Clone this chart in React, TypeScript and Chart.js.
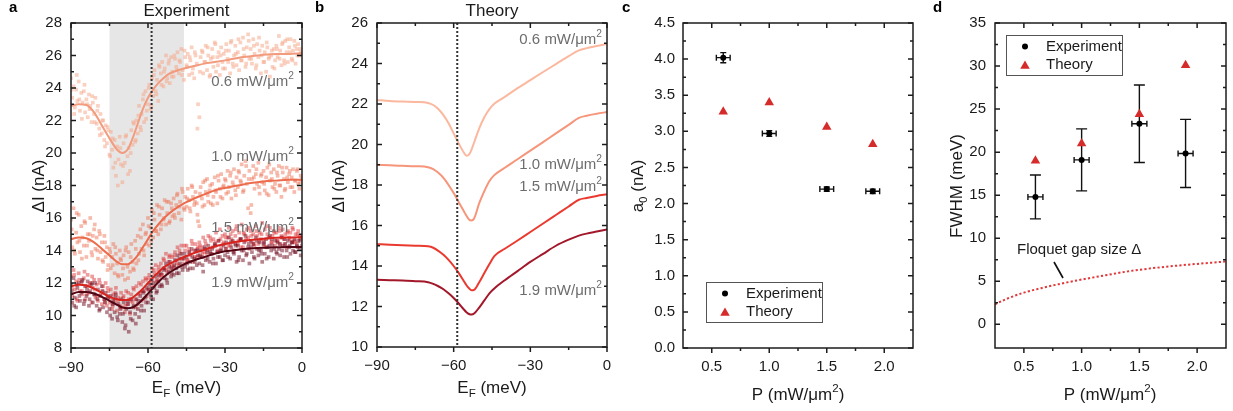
import React, { useEffect, useRef } from "react";
import { Chart, registerables } from "chart.js";
Chart.register(...registerables);

const FONT = "'Liberation Sans', Arial, Helvetica, sans-serif";
const H = 411;

// ---------------- Panel a: experiment
// main sweep: x = -90 .. 0, step 0.5
const EXP_X_START = -90;
const EXP_X_STEP = 0.5;
// second sweep: x = -89.75 .. -0.75, step 1
const EXP2_X_START = -89.75;
const EXP2_X_STEP = 1;
const exp06 = [
  24.6, 23.4, 24.1, 22.8, 23.9, 23.2, 24.4, 22.6, 23.7, 23.1,
  23.8, 22.5, 23.3, 22.2, 23.6, 22.9, 21.9, 23.1, 22.4, 23.4,
  21.8, 22.9, 21.5, 22.4, 21.2, 22.0, 20.8, 21.7, 20.6, 21.4,
  19.9, 21.3, 20.2, 19.1, 20.8, 18.6, 20.4, 19.6, 21.0, 19.3,
  18.2, 20.6, 19.4, 21.1, 19.8, 20.3, 18.9, 21.4, 20.5, 21.8,
  20.7, 22.0, 21.2, 22.9, 21.6, 22.4, 23.3, 21.9, 23.8, 22.6,
  23.0, 24.2, 22.7, 24.6, 23.5, 25.1, 23.8, 24.5, 23.2, 25.3,
  24.9, 25.6, 24.1, 25.2, 26.0, 24.6, 25.5, 24.3, 25.9, 25.0,
  24.7, 25.8, 25.3, 26.2, 24.9, 25.6, 26.4, 25.1, 24.5, 25.9,
  25.4, 26.1, 24.8, 25.7, 26.5, 25.2, 24.6, 26.0, 25.5, 23.0,
  22.2, 25.9, 26.3, 24.9, 25.6, 26.6, 25.1, 26.0, 24.7, 25.8,
  26.4, 25.3, 26.8, 25.0, 25.9, 26.2, 24.8, 26.5, 25.6, 26.1,
  25.2, 26.7, 25.8, 26.3, 24.9, 26.9, 25.5, 26.0, 26.6, 25.4,
  26.2, 25.1, 26.8, 25.7, 27.1, 26.0, 25.3, 26.5, 27.3, 25.8,
  26.4, 25.5, 27.0, 26.1, 25.2, 26.7, 25.9, 26.3, 24.9, 26.6,
  25.6, 26.2, 25.0, 26.5, 25.8, 24.7, 26.0, 25.3, 26.4, 25.7,
  26.6, 25.9, 27.2, 26.3, 25.4, 26.8, 25.7, 26.9, 26.2, 25.6,
  26.5, 27.0, 25.8, 26.3, 26.9, 25.5, 26.4, 26.7, 26.0, 26.2,
  26.1,
];
const exp06b = [
  23.9, 22.4, 24.8, 23.3, 22.1, 24.2, 23.0, 22.7, 23.5, 21.9,
  22.6, 21.1, 22.0, 20.4, 21.6, 19.8, 20.9, 19.4, 18.0, 20.3,
  19.2, 21.0, 18.7, 20.0, 21.9, 20.8, 22.3, 21.4, 23.6, 22.1,
  24.0, 22.9, 24.8, 23.6, 25.4, 24.2, 25.0, 24.4, 25.7, 24.7,
  26.0, 25.1, 25.7, 24.8, 26.3, 25.3, 25.9, 24.9, 26.2, 21.5,
  25.0, 26.2, 25.6, 26.5, 24.8, 25.9, 26.7, 25.4, 26.0, 25.2,
  26.3, 25.6, 26.8, 25.3, 26.1, 27.0, 25.7, 26.4, 25.5, 26.9,
  25.8, 26.6, 25.4, 27.1, 26.0, 25.6, 26.8, 25.9, 26.3, 25.2,
  26.4, 25.8, 26.7, 25.5, 27.0, 26.2, 25.7, 26.6, 26.0, 26.4,
];
const exp10 = [
  15.9, 14.2, 16.6, 13.8, 15.1, 14.5, 16.2, 13.9, 15.5, 14.8,
  14.3, 15.7, 13.6, 15.0, 14.6, 16.0, 13.9, 14.9, 15.3, 14.1,
  14.8, 13.5, 15.2, 13.9, 14.5, 13.3, 14.9, 13.6, 14.2, 13.1,
  14.1, 12.9, 13.6, 14.4, 12.6, 13.8, 13.2, 12.4, 14.0, 13.4,
  12.5, 13.7, 12.2, 14.2, 13.0, 13.9, 12.7, 14.4, 13.3, 12.8,
  14.6, 13.2, 14.9, 13.8, 15.3, 14.1, 15.6, 13.7, 15.0, 14.4,
  16.0, 14.3, 15.4, 16.5, 14.8, 15.9, 15.2, 16.8, 15.0, 16.2,
  15.3, 16.6, 15.9, 17.1, 15.6, 16.3, 17.0, 15.8, 16.9, 16.1,
  17.2, 16.0, 16.8, 17.5, 16.3, 17.0, 15.9, 17.6, 16.6, 17.3,
  16.7, 17.8, 17.1, 16.4, 18.0, 17.3, 16.8, 17.6, 16.9, 15.8,
  15.5, 17.9, 17.2, 18.2, 16.8, 17.6, 18.4, 17.0, 17.7, 16.9,
  18.1, 17.3, 18.5, 17.6, 16.9, 18.3, 17.8, 18.7, 17.2, 18.0,
  18.4, 17.5, 18.9, 17.9, 18.6, 17.2, 18.2, 19.0, 17.7, 18.5,
  17.9, 18.8, 18.3, 19.3, 17.6, 18.6, 19.5, 18.1, 16.6, 18.9,
  16.3, 18.4, 19.2, 17.8, 18.7, 18.1, 19.4, 17.5, 18.6, 18.2,
  18.9, 17.7, 18.5, 19.1, 17.4, 18.3, 18.8, 17.9, 19.0, 18.1,
  17.6, 18.6, 19.2, 18.0, 17.3, 18.8, 18.4, 17.8, 19.1, 18.2,
  18.7, 17.9, 18.5, 19.0, 17.6, 18.3, 18.9, 18.1, 17.8, 18.6,
  18.4,
];
const exp10b = [
  15.3, 14.0, 16.3, 14.6, 13.5, 15.8, 14.3, 15.0, 13.7, 15.6,
  14.0, 15.0, 13.4, 14.5, 12.8, 13.9, 13.1, 14.2, 12.5, 13.5,
  12.9, 14.0, 12.3, 13.6, 12.9, 14.1, 13.4, 14.8, 14.0, 15.1,
  15.5, 14.6, 16.3, 15.2, 16.7, 15.6, 16.0, 17.0, 15.7, 16.6,
  16.2, 17.4, 16.7, 17.8, 16.5, 17.2, 16.6, 17.9, 17.0, 16.2,
  17.5, 16.7, 18.3, 17.4, 18.0, 16.8, 17.7, 18.6, 17.3, 17.9,
  18.3, 17.6, 18.8, 18.0, 17.4, 18.9, 18.2, 17.7, 19.2, 18.4,
  16.8, 18.5, 19.0, 17.9, 18.7, 18.1, 17.5, 19.3, 18.4, 17.8,
  18.8, 18.0, 19.1, 17.7, 18.5, 18.9, 17.9, 18.3, 19.0, 18.2,
];
const exp15 = [
  12.4, 11.2, 12.8, 11.6, 12.1, 10.9, 12.6, 11.5, 12.0, 11.3,
  12.3, 11.0, 11.8, 12.5, 11.4, 12.0, 10.8, 11.7, 12.2, 11.1,
  11.9, 10.9, 12.2, 11.3, 10.7, 11.8, 11.0, 12.0, 10.6, 11.5,
  10.8, 11.6, 10.4, 11.3, 10.9, 11.7, 10.3, 11.1, 10.6, 11.4,
  10.5, 11.2, 10.2, 11.5, 10.7, 11.0, 10.1, 11.3, 10.8, 11.6,
  11.0, 11.8, 10.7, 12.0, 11.4, 10.9, 12.1, 11.5, 12.3, 11.2,
  11.6, 12.5, 12.0, 12.9, 11.8, 12.6, 13.1, 12.2, 12.8, 12.4,
  13.2, 12.5, 13.5, 12.9, 13.8, 12.6, 13.3, 13.7, 12.9, 13.6,
  13.0, 13.9, 13.4, 14.2, 13.1, 13.8, 14.3, 13.5, 13.2, 14.0,
  14.3, 13.4, 14.1, 13.7, 14.6, 13.3, 14.0, 14.4, 13.6, 14.2,
  14.5, 13.6, 14.2, 14.8, 13.9, 14.4, 13.7, 14.9, 14.1, 14.6,
  13.8, 14.7, 14.3, 15.1, 14.0, 14.6, 15.3, 14.2, 14.9, 14.5,
  15.0, 14.1, 14.8, 15.4, 14.3, 14.7, 15.2, 14.0, 14.9, 15.5,
  14.4, 15.1, 14.7, 15.6, 14.2, 15.0, 14.6, 15.3, 14.8, 14.1,
  15.2, 14.5, 15.0, 14.3, 15.5, 14.9, 14.4, 15.1, 14.7, 15.7,
  14.6, 15.3, 14.2, 15.0, 14.8, 15.4, 14.5, 14.9, 15.2, 14.3,
  15.1, 14.6, 15.4, 14.4, 14.9, 15.3, 14.7, 15.0, 14.2, 15.2,
  14.8, 15.1, 14.5, 15.3, 14.6, 15.0, 14.4, 15.2, 14.9, 14.7,
  14.9,
];
const exp15b = [
  11.7, 12.5, 11.0, 12.2, 11.5, 12.7, 11.3, 11.9, 12.4, 11.6,
  11.2, 12.0, 11.5, 10.8, 11.7, 11.1, 10.6, 11.4, 10.9, 10.5,
  11.1, 10.6, 11.4, 10.9, 11.7, 10.5, 11.3, 11.9, 11.0, 12.2,
  12.3, 11.7, 12.8, 12.1, 13.0, 12.5, 13.4, 12.8, 13.6, 13.1,
  13.7, 13.2, 14.0, 13.5, 14.3, 13.4, 13.9, 14.4, 13.6, 14.1,
  14.3, 13.8, 14.6, 14.0, 14.8, 14.2, 14.5, 13.9, 14.7, 14.4,
  14.8, 14.3, 15.0, 14.5, 15.3, 14.6, 14.2, 15.1, 14.7, 15.4,
  14.9, 14.4, 15.2, 14.6, 15.0, 14.3, 15.5, 14.8, 14.5, 15.1,
  14.6, 15.2, 14.8, 14.4, 15.1, 14.7, 15.4, 14.5, 15.0, 14.8,
];
const exp19 = [
  11.9, 10.8, 12.3, 11.1, 10.5, 11.7, 12.0, 10.9, 11.4, 12.2,
  10.7, 11.8, 11.2, 12.1, 10.6, 11.5, 11.9, 10.8, 11.3, 12.0,
  10.6, 11.6, 10.3, 11.2, 11.8, 10.5, 11.0, 11.4, 10.2, 11.1,
  10.4, 11.2, 9.8, 10.9, 10.2, 11.3, 9.9, 10.7, 10.1, 11.0,
  9.6, 10.8, 9.2, 10.4, 10.9, 9.0, 10.2, 11.0, 9.7, 10.6,
  10.1, 11.0, 10.4, 9.9, 11.2, 10.6, 11.5, 10.3, 11.1, 11.7,
  10.8, 11.9, 11.3, 12.2, 11.0, 11.7, 12.4, 11.5, 12.1, 11.8,
  12.6, 11.8, 12.9, 12.3, 13.2, 12.0, 12.7, 13.3, 12.4, 12.9,
  12.5, 13.4, 12.9, 13.7, 12.6, 13.2, 13.8, 12.8, 13.5, 13.0,
  13.6, 12.8, 13.9, 13.3, 14.1, 12.9, 13.5, 14.0, 13.1, 13.7,
  13.2, 14.0, 13.6, 12.7, 14.2, 13.4, 13.9, 14.3, 13.3, 13.8,
  14.1, 13.5, 14.4, 13.2, 13.9, 14.6, 13.6, 14.0, 13.4, 14.3,
  13.7, 14.5, 13.9, 14.8, 13.5, 14.2, 14.6, 13.8, 14.4, 13.3,
  14.3, 13.6, 14.7, 14.0, 13.4, 14.5, 14.9, 13.8, 14.2, 13.2,
  14.6, 13.9, 14.4, 13.5, 14.8, 14.1, 13.7, 14.5, 14.0, 13.3,
  14.4, 13.8, 14.7, 14.2, 13.6, 14.9, 14.0, 14.3, 13.5, 14.6,
  13.9, 14.5, 14.1, 13.7, 14.8, 14.3, 13.6, 14.4, 14.0, 14.6,
  14.2, 13.8, 14.5, 14.0, 14.7, 13.9, 14.3, 14.6, 14.1, 13.7,
  14.3,
];
const exp19b = [
  11.5, 10.6, 11.9, 11.2, 12.1, 10.9, 11.6, 11.0, 12.0, 11.3,
  11.0, 10.4, 11.5, 10.8, 11.2, 10.0, 10.7, 11.1, 9.7, 10.4,
  10.1, 9.4, 10.7, 9.8, 10.5, 9.5, 10.9, 10.3, 11.4, 10.8,
  11.6, 11.1, 12.0, 11.4, 12.5, 11.9, 12.8, 12.2, 13.0, 12.6,
  13.1, 12.6, 13.5, 13.0, 13.8, 13.2, 12.9, 13.6, 13.3, 14.0,
  13.7, 13.1, 14.1, 13.5, 13.9, 13.2, 14.3, 13.6, 14.0, 13.4,
  14.1, 13.6, 14.5, 13.9, 14.3, 13.4, 14.7, 14.0, 13.7, 14.4,
  14.2, 13.6, 14.6, 14.0, 13.8, 14.5, 13.5, 14.3, 14.7, 14.1,
  13.8, 14.4, 14.0, 14.7, 13.6, 14.3, 14.5, 13.9, 14.2, 14.6,
];

// fitted curves (panel a)
const fitX = [-90, -87, -84, -81, -78, -75, -72, -70, -68, -66, -64, -62, -60, -58, -56, -54, -52, -50, -46, -42, -38, -34, -30, -25, -20, -15, -10, -5, 0];
const fit06 = [22.9, 23.0, 22.95, 22.5, 21.7, 20.9, 20.2, 20.0, 20.2, 20.9, 21.8, 22.7, 23.4, 23.9, 24.3, 24.6, 24.85, 25.0, 25.2, 25.35, 25.5, 25.6, 25.7, 25.85, 25.95, 26.05, 26.1, 26.1, 26.15];
const fit10 = [14.7, 14.8, 14.75, 14.5, 14.1, 13.7, 13.3, 13.15, 13.15, 13.35, 13.7, 14.2, 14.7, 15.2, 15.6, 15.95, 16.25, 16.5, 16.9, 17.2, 17.45, 17.7, 17.85, 18.0, 18.15, 18.25, 18.3, 18.35, 18.35];
const fit15 = [11.8, 11.9, 11.85, 11.65, 11.4, 11.15, 11.0, 10.95, 10.95, 11.1, 11.35, 11.65, 12.0, 12.35, 12.65, 12.95, 13.15, 13.3, 13.6, 13.85, 14.05, 14.25, 14.4, 14.55, 14.65, 14.72, 14.78, 14.8, 14.82];
const fit19 = [11.3, 11.45, 11.45, 11.35, 11.15, 10.9, 10.65, 10.5, 10.45, 10.5, 10.7, 11.0, 11.35, 11.7, 12.05, 12.35, 12.6, 12.8, 13.15, 13.4, 13.6, 13.8, 13.95, 14.05, 14.12, 14.17, 14.2, 14.22, 14.22];

// ---------------- Panel b: theory
const theoryX = [-90, -85, -80, -75, -70, -68, -66, -64, -62, -60, -58, -56, -55, -54, -53, -52, -50, -48, -46, -44, -40, -35, -30, -25, -20, -15, -11, -8, -4, 0];
const th06 = [22.2, 22.15, 22.12, 22.1, 22.05, 21.95, 21.75, 21.45, 21.05, 20.55, 20.05, 19.6, 19.45, 19.5, 19.75, 20.1, 20.8, 21.35, 21.75, 22.02, 22.35, 22.78, 23.18, 23.58, 23.97, 24.36, 24.65, 24.76, 24.86, 24.96];
const th10 = [19.0, 18.97, 18.95, 18.93, 18.88, 18.78, 18.6, 18.35, 18.0, 17.6, 17.15, 16.7, 16.48, 16.3, 16.25, 16.35, 17.1, 17.7, 18.2, 18.5, 18.85, 19.27, 19.7, 20.12, 20.55, 20.97, 21.31, 21.42, 21.52, 21.6];
const th15 = [15.08, 15.05, 15.03, 15.0, 14.97, 14.9, 14.75, 14.55, 14.3, 14.0, 13.65, 13.25, 13.05, 12.9, 12.8, 12.82, 13.2, 13.65, 14.1, 14.5, 14.85, 15.26, 15.68, 16.1, 16.52, 16.94, 17.27, 17.36, 17.46, 17.54];
const th19 = [13.32, 13.3, 13.28, 13.25, 13.2, 13.12, 13.0, 12.85, 12.65, 12.42, 12.15, 11.85, 11.72, 11.63, 11.6, 11.65, 11.95, 12.3, 12.65, 12.9, 13.3, 13.75, 14.2, 14.6, 15.0, 15.3, 15.5, 15.6, 15.7, 15.8];

const powerLabels = ["0.6", "1.0", "1.5", "1.9"];
const shadeRange = [-75, -46];
const gapLineE = -58.6;

// ---------------- Panels c, d
const powers = [0.6, 1.0, 1.5, 1.9];
const a0Exp = [4.02, 2.97, 2.2, 2.17];
const a0ErrX = [0.06, 0.06, 0.06, 0.06];
const a0ErrY = [0.07, 0.04, 0.03, 0.03];
const a0Theory = [3.27, 3.4, 3.06, 2.82];
const fwhmExp = [14.8, 19.1, 23.3, 19.85];
const fwhmErrX = [0.065, 0.065, 0.065, 0.065];
const fwhmErrY = [2.55, 3.6, 4.5, 3.95];
const fwhmTheory = [19.0, 21.0, 24.4, 30.1];
const gapP = [0.25, 0.35, 0.5, 0.65, 0.8, 1.0, 1.2, 1.4, 1.6, 1.8, 2.0, 2.25];
const gapSize = [2.32, 2.95, 3.68, 4.2, 4.66, 5.2, 5.68, 6.15, 6.5, 6.78, 7.02, 7.3];

// tick values
const eTicks = [-90, -60, -30, 0];
const eMinor = [-75, -45, -15];
const aTicks = [8, 10, 12, 14, 16, 18, 20, 22, 24, 26, 28];
const aMinor = [9, 11, 13, 15, 17, 19, 21, 23, 25, 27];
const bTicks = [10, 12, 14, 16, 18, 20, 22, 24, 26];
const bMinor = [11, 13, 15, 17, 19, 21, 23, 25];
const pTicks = [0.5, 1.0, 1.5, 2.0];
const pMinor = [0.75, 1.25, 1.75];
const cTicks = [0, 0.5, 1.0, 1.5, 2.0, 2.5, 3.0, 3.5, 4.0, 4.5];
const cMinor = [0.25, 0.75, 1.25, 1.75, 2.25, 2.75, 3.25, 3.75, 4.25];
const dTicks = [0, 5, 10, 15, 20, 25, 30, 35];
const dMinor = [2.5, 7.5, 12.5, 17.5, 22.5, 27.5, 32.5];

// colours
const expPointColors = ["rgba(246,170,140,0.55)", "rgba(238,120,90,0.5)", "rgba(220,40,42,0.45)", "rgba(112,10,30,0.5)"];
const expLineColors = ["#f29b7e", "#ec6c4d", "#d8241f", "#520512"];
const theoryColors = ["#fbb89e", "#f6957a", "#ea3a30", "#a3172a"];
const RED = "#d62b2b";

type Part = { t: string; s?: "sub" | "sup" };
type TextItem = { parts: Part[]; x: number; y: number; size: number; align: "left" | "center" | "right"; color: string; rot?: boolean; bold?: boolean };
type Deco = {
  left: number;
  xMinor: number[];
  yMinor: number[];
  shade?: number[];
  vline?: number;
  errors?: { x: number[]; y: number[]; ex: number[]; ey: number[]; capX: number; capY: number };
  texts: TextItem[];
  legend?: { x: number; y: number; w: number; h: number };
  pointer?: number[];
};

function drawRich(ctx: CanvasRenderingContext2D, it: TextItem, x: number, y: number) {
  const f = (sz: number) => `${it.bold ? "bold " : ""}${sz}px ${FONT}`;
  const sizes = it.parts.map((p) => (p.s ? it.size * 0.68 : it.size));
  const widths = it.parts.map((p, i) => {
    ctx.font = f(sizes[i]);
    return ctx.measureText(p.t).width;
  });
  const total = widths.reduce((a, b) => a + b, 0);
  let cx = it.align === "left" ? x : it.align === "center" ? x - total / 2 : x - total;
  ctx.fillStyle = it.color;
  ctx.textBaseline = "middle";
  ctx.textAlign = "left";
  it.parts.forEach((p, i) => {
    ctx.font = f(sizes[i]);
    const dy = p.s === "sub" ? it.size * 0.32 : p.s === "sup" ? -it.size * 0.36 : 0;
    ctx.fillText(p.t, cx, y + dy);
    cx += widths[i];
  });
}

function triangle(ctx: CanvasRenderingContext2D, x: number, y: number, r: number) {
  ctx.beginPath();
  ctx.moveTo(x, y - r);
  ctx.lineTo(x + r * 0.866, y + r / 2);
  ctx.lineTo(x - r * 0.866, y + r / 2);
  ctx.closePath();
  ctx.fill();
}

function makeDeco(d: Deco) {
  return {
    id: "deco",
    beforeDatasetsDraw(chart: any) {
      const { ctx, chartArea: ca, scales } = chart;
      const xs = scales.x;
      const ys = scales.y;
      ctx.save();
      if (d.shade) {
        const x1 = xs.getPixelForValue(d.shade[0]);
        const x2 = xs.getPixelForValue(d.shade[1]);
        ctx.fillStyle = "rgba(205,205,205,0.5)";
        ctx.fillRect(x1, ca.top, x2 - x1, ca.bottom - ca.top);
      }
      if (d.errors) {
        const e = d.errors;
        ctx.strokeStyle = "#111";
        ctx.lineWidth = 1.4;
        ctx.beginPath();
        e.x.forEach((xv, i) => {
          const px = xs.getPixelForValue(xv);
          const py = ys.getPixelForValue(e.y[i]);
          const x1 = xs.getPixelForValue(xv - e.ex[i]);
          const x2 = xs.getPixelForValue(xv + e.ex[i]);
          const y1 = ys.getPixelForValue(e.y[i] - e.ey[i]);
          const y2 = ys.getPixelForValue(e.y[i] + e.ey[i]);
          ctx.moveTo(x1, py); ctx.lineTo(x2, py);
          ctx.moveTo(x1, py - e.capX); ctx.lineTo(x1, py + e.capX);
          ctx.moveTo(x2, py - e.capX); ctx.lineTo(x2, py + e.capX);
          ctx.moveTo(px, y1); ctx.lineTo(px, y2);
          ctx.moveTo(px - e.capY, y1); ctx.lineTo(px + e.capY, y1);
          ctx.moveTo(px - e.capY, y2); ctx.lineTo(px + e.capY, y2);
        });
        ctx.stroke();
      }
      ctx.restore();
    },
    afterDatasetsDraw(chart: any) {
      const { ctx, chartArea: ca, scales } = chart;
      const xs = scales.x;
      const ys = scales.y;
      ctx.save();
      if (d.vline !== undefined) {
        const px = xs.getPixelForValue(d.vline);
        ctx.strokeStyle = "#333";
        ctx.lineWidth = 2;
        ctx.setLineDash([2, 2]);
        ctx.beginPath();
        ctx.moveTo(px, ca.top);
        ctx.lineTo(px, ca.bottom);
        ctx.stroke();
        ctx.setLineDash([]);
      }
      ctx.strokeStyle = "#1c1c1c";
      ctx.lineWidth = 1.5;
      ctx.strokeRect(ca.left, ca.top, ca.right - ca.left, ca.bottom - ca.top);
      const MAJ = 5;
      const MIN = 3;
      ctx.beginPath();
      const xt: number[][] = [...xs.ticks.map((t: any) => [t.value, MAJ]), ...d.xMinor.map((v) => [v, MIN])];
      xt.forEach(([v, len]) => {
        const p = xs.getPixelForValue(v);
        ctx.moveTo(p, ca.bottom); ctx.lineTo(p, ca.bottom + len);
        ctx.moveTo(p, ca.top); ctx.lineTo(p, ca.top + len);
      });
      const yt: number[][] = [...ys.ticks.map((t: any) => [t.value, MAJ]), ...d.yMinor.map((v) => [v, MIN])];
      yt.forEach(([v, len]) => {
        const p = ys.getPixelForValue(v);
        ctx.moveTo(ca.left, p); ctx.lineTo(ca.left + len, p);
        ctx.moveTo(ca.right, p); ctx.lineTo(ca.right - len, p);
      });
      ctx.stroke();
      ctx.restore();
    },
    afterDraw(chart: any) {
      const { ctx } = chart;
      ctx.save();
      d.texts.forEach((it) => {
        const x = it.x - d.left;
        if (it.rot) {
          ctx.save();
          ctx.translate(x, it.y);
          ctx.rotate(-Math.PI / 2);
          drawRich(ctx, it, 0, 0);
          ctx.restore();
        } else {
          drawRich(ctx, it, x, it.y);
        }
      });
      if (d.legend) {
        const L = d.legend;
        const lx = L.x - d.left;
        ctx.strokeStyle = "#555";
        ctx.lineWidth = 1;
        ctx.strokeRect(lx + 0.5, L.y + 0.5, L.w, L.h);
        const mx = lx + 19;
        const y1 = L.y + 11.5;
        const y2 = L.y + 30;
        ctx.fillStyle = "#000";
        ctx.beginPath();
        ctx.arc(mx, y1, 3, 0, Math.PI * 2);
        ctx.fill();
        ctx.fillStyle = RED;
        triangle(ctx, mx, y2 + 1, 5.5);
        ctx.fillStyle = "#1a1a1a";
        ctx.font = `15px ${FONT}`;
        ctx.textBaseline = "middle";
        ctx.textAlign = "left";
        ctx.fillText("Experiment", lx + 40, y1);
        ctx.fillText("Theory", lx + 40, y2);
      }
      if (d.pointer) {
        const p = d.pointer;
        ctx.strokeStyle = "#111";
        ctx.lineWidth = 1.6;
        ctx.beginPath();
        ctx.moveTo(p[0] - d.left, p[1]);
        ctx.lineTo(p[2] - d.left, p[3]);
        ctx.stroke();
      }
      ctx.restore();
    },
  };
}

const minus = (v: number) => String(v).replace("-", "\u2212");

function axis(min: number, max: number, majors: number[], size: number, horizontal: boolean, pad: number, fmt: (v: number) => string) {
  return {
    type: "linear",
    min,
    max,
    afterBuildTicks: (s: any) => {
      s.ticks = majors.map((v) => ({ value: v }));
    },
    afterFit: (s: any) => {
      if (horizontal) {
        s.height = size;
        s.paddingLeft = 0;
        s.paddingRight = 0;
      } else {
        s.width = size;
        s.paddingTop = 0;
        s.paddingBottom = 0;
      }
    },
    grid: { display: false, drawTicks: false, tickLength: 0 },
    border: { display: false },
    ticks: {
      font: { family: FONT, size: 15 },
      color: "#1a1a1a",
      padding: pad,
      maxRotation: 0,
      autoSkip: false,
      callback: (v: any) => fmt(Number(v)),
    },
  };
}

type Panel = { left: number; width: number; L: number; R: number; T: number; B: number };

function baseOptions(p: Panel, x: any, y: any) {
  return {
    responsive: false,
    animation: false,
    events: [],
    layout: { padding: { top: p.T, right: p.left + p.width - p.R, left: 0, bottom: 0 } },
    plugins: { legend: { display: false }, tooltip: { enabled: false } },
    scales: { x, y },
  };
}

const PA: Panel = { left: 0, width: 310, L: 71, R: 302, T: 23, B: 348 };
const PB: Panel = { left: 310, width: 310, L: 377, R: 607, T: 23, B: 347 };
const PC: Panel = { left: 620, width: 310, L: 683, R: 913, T: 23, B: 348 };
const PD: Panel = { left: 930, width: 303, L: 995, R: 1226, T: 23, B: 348 };

const supPower = (s: string): Part[] => [{ t: `${s} mW/\u03bcm` }, { t: "2", s: "sup" }];
const pTitle: Part[] = [{ t: "P (mW/\u03bcm" }, { t: "2", s: "sup" }, { t: ")" }];
const eTitle: Part[] = [{ t: "E" }, { t: "F", s: "sub" }, { t: " (meV)" }];
const GRAY = "#6d6d6d";
const DARK = "#1a1a1a";

function configA() {
  const mains = [exp06, exp10, exp15, exp19];
  const seconds = [exp06b, exp10b, exp15b, exp19b];
  const scatterSets = mains.map((arr, i) => ({
    type: "scatter",
    data: [
      ...arr.map((v, k) => ({ x: EXP_X_START + k * EXP_X_STEP, y: v })),
      ...seconds[i].map((v, k) => ({ x: EXP2_X_START + k * EXP2_X_STEP, y: v })),
    ],
    backgroundColor: expPointColors[i],
    borderWidth: 0,
    pointRadius: 2.6,
    pointStyle: "rect",
    order: 4 - i + 1,
  }));
  const fitSets = [fit06, fit10, fit15, fit19].map((arr, i) => ({
    type: "line",
    data: arr.map((v, k) => ({ x: fitX[k], y: v })),
    borderColor: expLineColors[i],
    borderWidth: 2,
    pointRadius: 0,
    cubicInterpolationMode: "monotone",
    fill: false,
    order: 0,
  }));
  const deco: Deco = {
    left: PA.left,
    xMinor: eMinor,
    yMinor: aMinor,
    shade: shadeRange,
    vline: gapLineE,
    texts: [
      { parts: [{ t: "a" }], x: 9, y: 8, size: 15, align: "left", color: "#000", bold: true },
      { parts: [{ t: "Experiment" }], x: 186.5, y: 11, size: 17, align: "center", color: DARK },
      { parts: [{ t: "\u0394I (nA)" }], x: 39, y: 186, size: 17, align: "center", color: DARK, rot: true },
      { parts: eTitle, x: 186.5, y: 388, size: 17, align: "center", color: DARK },
      { parts: supPower(powerLabels[0]), x: 294, y: 82, size: 15, align: "right", color: GRAY },
      { parts: supPower(powerLabels[1]), x: 294, y: 157, size: 15, align: "right", color: GRAY },
      { parts: supPower(powerLabels[2]), x: 294, y: 228, size: 15, align: "right", color: GRAY },
      { parts: supPower(powerLabels[3]), x: 294, y: 283, size: 15, align: "right", color: GRAY },
    ],
  };
  return {
    type: "scatter",
    data: { datasets: [...fitSets, ...scatterSets] },
    options: baseOptions(PA, axis(-90, 0, eTicks, H - PA.B, true, 11, minus), axis(8, 28, aTicks, PA.L - PA.left, false, 9, (v) => String(v))),
    plugins: [makeDeco(deco)],
  };
}

function configB() {
  const sets = [th06, th10, th15, th19].map((arr, i) => ({
    type: "line",
    data: arr.map((v, k) => ({ x: theoryX[k], y: v })),
    borderColor: theoryColors[i],
    borderWidth: 2,
    pointRadius: 0,
    cubicInterpolationMode: "monotone",
    fill: false,
  }));
  const deco: Deco = {
    left: PB.left,
    xMinor: eMinor,
    yMinor: bMinor,
    vline: gapLineE,
    texts: [
      { parts: [{ t: "b" }], x: 315, y: 8, size: 15, align: "left", color: "#000", bold: true },
      { parts: [{ t: "Theory" }], x: 492, y: 11, size: 17, align: "center", color: DARK },
      { parts: [{ t: "\u0394I (nA)" }], x: 339, y: 186, size: 17, align: "center", color: DARK, rot: true },
      { parts: eTitle, x: 492, y: 388, size: 17, align: "center", color: DARK },
      { parts: supPower(powerLabels[0]), x: 602, y: 40, size: 15, align: "right", color: GRAY },
      { parts: supPower(powerLabels[1]), x: 602, y: 165, size: 15, align: "right", color: GRAY },
      { parts: supPower(powerLabels[2]), x: 602, y: 187, size: 15, align: "right", color: GRAY },
      { parts: supPower(powerLabels[3]), x: 602, y: 291, size: 15, align: "right", color: GRAY },
    ],
  };
  return {
    type: "line",
    data: { datasets: sets },
    options: baseOptions(PB, axis(-90, 0, eTicks, H - PB.B, true, 10, minus), axis(10, 26, bTicks, PB.L - PB.left, false, 9, (v) => String(v))),
    plugins: [makeDeco(deco)],
  };
}

function configC() {
  const deco: Deco = {
    left: PC.left,
    xMinor: pMinor,
    yMinor: cMinor,
    errors: { x: powers, y: a0Exp, ex: a0ErrX, ey: a0ErrY, capX: 3, capY: 3 },
    legend: { x: 706, y: 282, w: 116, h: 40 },
    texts: [
      { parts: [{ t: "c" }], x: 622, y: 8, size: 15, align: "left", color: "#000", bold: true },
      { parts: [{ t: "a" }, { t: "0", s: "sub" }, { t: " (nA)" }], x: 638, y: 186, size: 17, align: "center", color: DARK, rot: true },
      { parts: pTitle, x: 798, y: 395, size: 17, align: "center", color: DARK },
    ],
  };
  return {
    type: "scatter",
    data: {
      datasets: [
        { data: powers.map((p, i) => ({ x: p, y: a0Exp[i] })), backgroundColor: "#000", borderWidth: 0, pointRadius: 3, order: 0 },
        { data: powers.map((p, i) => ({ x: p, y: a0Theory[i] })), backgroundColor: RED, borderWidth: 0, pointRadius: 5.5, pointStyle: "triangle", order: 1 },
      ],
    },
    options: baseOptions(PC, axis(0.25, 2.25, pTicks, H - PC.B, true, 10, (v) => v.toFixed(1)), axis(0, 4.5, cTicks, PC.L - PC.left, false, 8, (v) => v.toFixed(1))),
    plugins: [makeDeco(deco)],
  };
}

function configD() {
  const deco: Deco = {
    left: PD.left,
    xMinor: pMinor,
    yMinor: dMinor,
    errors: { x: powers, y: fwhmExp, ex: fwhmErrX, ey: fwhmErrY, capX: 3, capY: 5.5 },
    legend: { x: 1006, y: 35, w: 116, h: 40 },
    pointer: [1054, 262, 1063, 278],
    texts: [
      { parts: [{ t: "d" }], x: 933, y: 8, size: 15, align: "left", color: "#000", bold: true },
      { parts: [{ t: "FWHM (meV)" }], x: 957, y: 186, size: 17, align: "center", color: DARK, rot: true },
      { parts: pTitle, x: 1110, y: 395, size: 17, align: "center", color: DARK },
      { parts: [{ t: "Floquet gap size \u0394" }], x: 1017, y: 250, size: 15, align: "left", color: DARK },
    ],
  };
  return {
    type: "scatter",
    data: {
      datasets: [
        { data: powers.map((p, i) => ({ x: p, y: fwhmExp[i] })), backgroundColor: "#000", borderWidth: 0, pointRadius: 3, order: 0 },
        { data: powers.map((p, i) => ({ x: p, y: fwhmTheory[i] })), backgroundColor: RED, borderWidth: 0, pointRadius: 5.5, pointStyle: "triangle", order: 1 },
        {
          type: "line",
          data: gapP.map((p, i) => ({ x: p, y: gapSize[i] })),
          borderColor: "#e0393b",
          borderWidth: 2,
          borderDash: [2.2, 2.2],
          pointRadius: 0,
          cubicInterpolationMode: "monotone",
          fill: false,
          order: 2,
        },
      ],
    },
    options: baseOptions(PD, axis(0.25, 2.25, pTicks, H - PD.B, true, 10, (v) => v.toFixed(1)), axis(-2.75, 35, dTicks, PD.L - PD.left, false, 9, (v) => String(v))),
    plugins: [makeDeco(deco)],
  };
}

function PanelCanvas({ panel, make }: { panel: Panel; make: () => any }) {
  const ref = useRef<HTMLCanvasElement | null>(null);
  useEffect(() => {
    if (!ref.current) return;
    const chart = new Chart(ref.current, make());
    return () => chart.destroy();
  }, []);
  return (
    <canvas
      ref={ref}
      width={panel.width}
      height={H}
      style={{ position: "absolute", left: panel.left, top: 0, width: panel.width, height: H }}
    />
  );
}

export default function App() {
  return (
    <div style={{ position: "fixed", left: 0, top: 0, width: 1233, height: H, background: "#fff", overflow: "hidden" }}>
      <PanelCanvas panel={PA} make={configA} />
      <PanelCanvas panel={PB} make={configB} />
      <PanelCanvas panel={PC} make={configC} />
      <PanelCanvas panel={PD} make={configD} />
    </div>
  );
}
